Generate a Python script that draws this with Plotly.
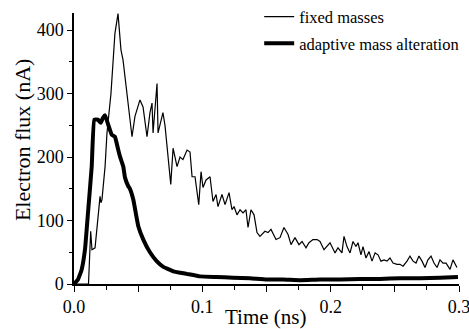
import plotly.graph_objects as go

# Time (ns) and electron flux (nA)
t_fixed = [0.0000, 0.0101, 0.0113, 0.0130, 0.0140, 0.0164, 0.0179, 0.0203, 0.0210, 0.0218,
           0.0242, 0.0257, 0.0288, 0.0319, 0.0343, 0.0366, 0.0382, 0.0413, 0.0452, 0.0475,
           0.0514, 0.0538, 0.0569, 0.0592, 0.0608, 0.0616, 0.0647, 0.0655, 0.0670, 0.0693,
           0.0709, 0.0725, 0.0754, 0.0772, 0.0803, 0.0826, 0.0849, 0.0881, 0.0904, 0.0920,
           0.0943, 0.0972, 0.0990, 0.1005, 0.1029, 0.1060, 0.1083, 0.1107, 0.1122, 0.1153,
           0.1177, 0.1208, 0.1231, 0.1247, 0.1270, 0.1294, 0.1317, 0.1340, 0.1356, 0.1379,
           0.1403, 0.1426, 0.1449, 0.1488, 0.1512, 0.1535, 0.1574, 0.1605, 0.1636, 0.1668,
           0.1691, 0.1722, 0.1753, 0.1777, 0.1808, 0.1831, 0.1862, 0.1894, 0.1917, 0.1948,
           0.1995, 0.2034, 0.2057, 0.2088, 0.2104, 0.2127, 0.2151, 0.2174, 0.2197, 0.2213,
           0.2236, 0.2252, 0.2275, 0.2299, 0.2322, 0.2346, 0.2369, 0.2392, 0.2416, 0.2439,
           0.2462, 0.2486, 0.2517, 0.2540, 0.2564, 0.2595, 0.2618, 0.2642, 0.2665, 0.2688,
           0.2712, 0.2735, 0.2758, 0.2782, 0.2805, 0.2829, 0.2852, 0.2875, 0.2899, 0.2930,
           0.2953, 0.2984]
flux_fixed = [0, 0, 0, 83, 54, 57, 89, 138, 128, 133,
              185, 238, 300, 395, 426, 369, 353, 301, 232, 264,
              290, 279, 232, 270, 285, 238, 316, 238, 250, 270,
              250, 220, 157, 214, 185, 200, 196, 211, 208, 169,
              169, 125, 177, 152, 164, 169, 130, 141, 122, 141,
              125, 144, 117, 122, 109, 117, 112, 117, 89, 117,
              109, 81, 75, 83, 81, 86, 70, 73, 89, 78,
              62, 73, 62, 67, 57, 65, 70, 70, 67, 54,
              65, 49, 57, 49, 75, 59, 49, 67, 59, 65,
              46, 59, 41, 51, 36, 49, 46, 36, 38, 36,
              41, 33, 31, 31, 28, 36, 44, 36, 33, 44,
              36, 26, 38, 44, 33, 26, 38, 33, 33, 23,
              38, 26]

t_adaptive = [0.0000, 0.0031, 0.0060, 0.0086, 0.0109, 0.0138, 0.0158, 0.0187, 0.0208, 0.0226,
              0.0242, 0.0265, 0.0294, 0.0319, 0.0345, 0.0358, 0.0384, 0.0397, 0.0423, 0.0436,
              0.0462, 0.0501, 0.0540, 0.0592, 0.0644, 0.0696, 0.0774, 0.0878, 0.0982, 0.1107,
              0.1239, 0.1371, 0.1502, 0.1629, 0.1761, 0.1917, 0.2073, 0.2229, 0.2384, 0.2540,
              0.2696, 0.2852, 0.2992]
flux_adaptive = [0, 7, 23, 55, 112, 185, 259, 259, 254, 262,
                 266, 252, 235, 232, 211, 201, 185, 168, 154, 150,
                 133, 91, 70, 50, 36, 27, 20, 16, 12, 11,
                 10, 9, 7, 7, 6, 7, 7, 8, 8, 9,
                 9, 10, 11]

x_tickvals = [0.0, 0.05, 0.1, 0.15, 0.2, 0.25, 0.3]
x_ticktext = ["0.0", "", "0.1", "", "0.2", "", "0.3"]
y_tickvals = [0, 100, 200, 300, 400]

font_family = "Liberation Serif, Times New Roman, Times, serif"

fig = go.Figure()
fig.add_trace(go.Scatter(x=t_fixed, y=flux_fixed, mode="lines", name="fixed masses",
                         legendgroup="a",
                         line=dict(color="black", width=1.2)))
fig.add_trace(go.Scatter(x=t_adaptive, y=flux_adaptive, mode="lines",
                         name="adaptive mass alteration", legendgroup="b",
                         line=dict(color="black", width=4, shape="spline", smoothing=0.3)))

fig.update_layout(
    width=469, height=329,
    margin=dict(l=74, r=10, t=13, b=45, autoexpand=False),
    paper_bgcolor="white", plot_bgcolor="white",
    font=dict(family=font_family, color="black", size=18),
    showlegend=True,
    legend=dict(x=0.481, y=1.05, xanchor="left", yanchor="top",
                bgcolor="rgba(0,0,0,0)", font=dict(family=font_family, size=16.5),
                tracegroupgap=2, itemwidth=30),
    xaxis=dict(range=[0, 0.3], tickvals=x_tickvals, ticktext=x_ticktext,
               ticks="outside", ticklen=6, tickwidth=1.2, tickcolor="black",
               ticklabeloverflow="allow",
               showline=True, linecolor="black", linewidth=1.5,
               showgrid=False, zeroline=False,
               minor=dict(dtick=0.025, ticks="outside", ticklen=4, tickwidth=1.2,
                          tickcolor="black", showgrid=False),
               tickfont=dict(family=font_family, size=18)),
    yaxis=dict(range=[0, 427], tickvals=y_tickvals,
               ticks="outside", ticklen=5, tickwidth=1.2, tickcolor="black",
               showline=True, linecolor="black", linewidth=1.5,
               showgrid=False, zeroline=False,
               minor=dict(dtick=50, ticks="outside", ticklen=3, tickwidth=1.2,
                          tickcolor="black", showgrid=False),
               tickfont=dict(family=font_family, size=18)),
    annotations=[
        dict(text="Time (ns)", xref="paper", yref="paper", x=0.499, y=-0.122,
             xanchor="center", yanchor="middle", showarrow=False,
             font=dict(family=font_family, size=21)),
        dict(text="Electron flux (nA)", xref="paper", yref="paper", x=-0.135, y=0.531,
             xanchor="center", yanchor="middle", showarrow=False, textangle=-90,
             font=dict(family=font_family, size=22)),
    ],
)

fig.write_html("out.html", config={"displayModeBar": False},
               post_script="document.body.style.margin='0';document.body.style.padding='0';")
